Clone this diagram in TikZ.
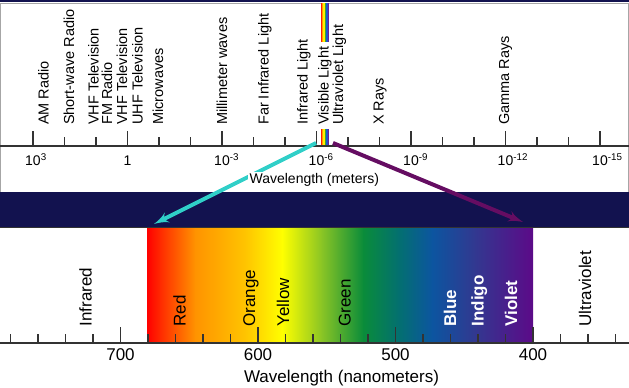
\documentclass[tikz,border=0pt]{standalone}
\usepackage{fontspec}
\setmainfont{Liberation Sans}
\usetikzlibrary{arrows}

\definecolor{navyband}{HTML}{12124F}
\definecolor{arrowcyan}{HTML}{30CFC8}
\definecolor{arrowpurple}{HTML}{650D62}
\definecolor{axisgray}{HTML}{333333}
% spectrum stops
\definecolor{sp1}{HTML}{FF0000}
\definecolor{sp2}{HTML}{FF2A00}
\definecolor{sp3}{HTML}{FF9300}
\definecolor{sp4}{HTML}{FFC400}
\definecolor{sp5}{HTML}{FFFF00}
\definecolor{sp6}{HTML}{88C425}
\definecolor{sp7}{HTML}{0A8C3A}
\definecolor{sp8}{HTML}{03706F}
\definecolor{sp9}{HTML}{0C55A0}
\definecolor{sp10}{HTML}{323890}
\definecolor{sp11}{HTML}{5C0A88}
% rainbow marks
\definecolor{rb1}{HTML}{FF1A00}
\definecolor{rb2}{HTML}{FF9900}
\definecolor{rb3}{HTML}{FFEE00}
\definecolor{rb4}{HTML}{33AA33}
\definecolor{rb5}{HTML}{2255CC}
\definecolor{rb6}{HTML}{662299}

\begin{document}
\begin{tikzpicture}[x=1pt, y=1pt,
    label_top/.style ={rotate=90, anchor=base west, inner sep=0pt,
      font=\fontsize{14.5}{16}\selectfont},
    label_bottom/.style ={rotate=90, anchor=base west, inner sep=0pt,
      font=\fontsize{17}{19}\selectfont},
    label_white/.style ={label_bottom, text=white,
      font=\fontsize{17}{19}\selectfont\bfseries},
    tick_top/.style ={anchor=base, inner sep=0pt,
      font=\fontsize{14}{16}\selectfont},
    tick_bottom/.style ={anchor=base, inner sep=0pt,
      font=\fontsize{17}{19}\selectfont},
    axis/.style ={draw=axisgray, line width=1.4pt},
    line/.style ={draw, line width=4pt, -latex', shorten >=0pt}]
    \useasboundingbox (0,0) rectangle (629,388);
    % top panel frame and the dark band
    \fill [navyband] (0,385.5) rectangle (629,388);
    \draw [gray!70, line width=0.8pt] (0.4,196) -- (0.4,385) -- (628.6,385) -- (628.6,196);
    \fill [navyband] (0,160) rectangle (629,196);
    % visible spectrum (680 nm to 400 nm)
    \shade [left color=sp1, right color=sp2]  (147,45) rectangle (160.5,160);
    \shade [left color=sp2, right color=sp3]  (160,45) rectangle (195.5,160);
    \shade [left color=sp3, right color=sp4]  (195,45) rectangle (245.5,160);
    \shade [left color=sp4, right color=sp5]  (245,45) rectangle (282.5,160);
    \shade [left color=sp5, right color=sp6]  (282,45) rectangle (322.5,160);
    \shade [left color=sp6, right color=sp7]  (322,45) rectangle (363.5,160);
    \shade [left color=sp7, right color=sp8]  (363,45) rectangle (398.5,160);
    \shade [left color=sp8, right color=sp9]  (398,45) rectangle (432.5,160);
    \shade [left color=sp9, right color=sp10] (432,45) rectangle (475.5,160);
    \shade [left color=sp10, right color=sp11] (475,45) rectangle (533,160);
    \draw [axisgray, line width=1pt] (0,160) -- (629,160);
    % rainbow marks in the top panel
    \foreach \i in {1,...,6} {
      \fill [rb\i] (319.4+\i*1.35,346) rectangle ++(1.4,39);
      \fill [rb\i] (319.4+\i*1.35,242) rectangle ++(1.4,17);
    }
    % top axis (meters), one decade = 31.5pt
    \draw [axis] (0,242) -- (629,242);
    \foreach \d in {0,...,18}
      \draw [axisgray, line width=1.2pt] (33+\d*31.5,242) -- ++(0,9);
    \foreach \d in {0,3,...,18}
      \draw [axisgray, line width=1.2pt] (33+\d*31.5,242) -- ++(0,15);
    \node [tick_top] (m3)  at (33,222.5)  {10\rlap{\textsuperscript{3}}};
    \node [tick_top] (m0)  at (127.5,222.5) {1};
    \node [tick_top] (mm3) at (222,222.5) {10\rlap{\textsuperscript{-3}}};
    \node [tick_top] (mm6) at (316.5,222.5) {10\rlap{\textsuperscript{-6}}};
    \node [tick_top] (mm9) at (411,222.5) {10\rlap{\textsuperscript{-9}}};
    \node [tick_top] (mm12) at (505.5,222.5) {10\rlap{\textsuperscript{-12}}};
    \node [tick_top] (mm15) at (600,222.5) {10\rlap{\textsuperscript{-15}}};
    % band names
    \node [label_top] (am)     at (48.5,263)  {AM Radio};
    \node [label_top] (sw)     at (74,263)    {Short-wave Radio};
    \node [label_top] (vhf1)   at (98.5,263)  {VHF Television};
    \node [label_top] (fm)     at (112,263)   {FM Radio};
    \node [label_top] (vhf2)   at (127,263)   {VHF Television};
    \node [label_top] (uhf)    at (142.5,263) {UHF Television};
    \node [label_top] (micro)  at (163,263)   {Microwaves};
    \node [label_top] (milli)  at (227,263)   {Millimeter waves};
    \node [label_top] (farir)  at (268.5,263) {Far Infrared Light};
    \node [label_top] (ir)     at (307.5,263) {Infrared Light};
    \node [label_top] (vis)    at (328.5,263) {Visible Light};
    \node [label_top] (uv)     at (343,263)   {Ultraviolet Light};
    \node [label_top] (xray)   at (383.5,263) {X Rays};
    \node [label_top] (gamma)  at (509,263)   {Gamma Rays};
    % bottom axis (nanometers), 20 nm = 27.5pt
    \draw [axis] (0,45) -- (629,45);
    \foreach \n in {340,360,...,780}
      \draw [axisgray, line width=1.2pt] ({533+(400-\n)*1.375},45) -- ++(0,9);
    \foreach \n in {400,500,600,700}
      \draw [axisgray, line width=1.2pt] ({533+(400-\n)*1.375},45) -- ++(0,16);
    \node [tick_bottom] (nm700) at (120.5,27.5) {700};
    \node [tick_bottom] (nm600) at (258,27.5)   {600};
    \node [tick_bottom] (nm500) at (395.5,27.5) {500};
    \node [tick_bottom] (nm400) at (533,27.5)   {400};
    \node [tick_bottom] (nmtitle) at (341.5,5)  {Wavelength (nanometers)};
    % colour names
    \node [label_bottom] (infra)  at (91.5,61.3)  {Infrared};
    \node [label_bottom] (red)    at (185.5,61.3) {Red};
    \node [label_bottom] (orange) at (255,61.3)   {Orange};
    \node [label_bottom] (yellow) at (289,61.3)   {Yellow};
    \node [label_bottom] (green)  at (350.5,61.3) {Green};
    \node [label_white]  (blue)   at (456,61.3)   {Blue};
    \node [label_white]  (indigo) at (483.5,61.3) {Indigo};
    \node [label_white]  (violet) at (517,61.3)   {Violet};
    \node [label_bottom] (ultra)  at (591,61.3)   {Ultraviolet};
    % zoom arrows from the visible range to the spectrum
    \coordinate (vis_lo) at (316,245);
    \coordinate (vis_hi) at (333,245);
    \coordinate (spec_red) at (154,164);
    \coordinate (spec_violet) at (523,166);
    \begin{scope}[every path/.style=line]
      \path [draw=arrowcyan] (vis_lo) -- (spec_red);
      \path [draw=arrowpurple] (vis_hi) -- (spec_violet);
    \end{scope}
    \node [tick_top, fill=white, inner sep=1.5pt] (mtitle) at (314.3,204) {Wavelength (meters)};
  \end{tikzpicture}
\end{document}
